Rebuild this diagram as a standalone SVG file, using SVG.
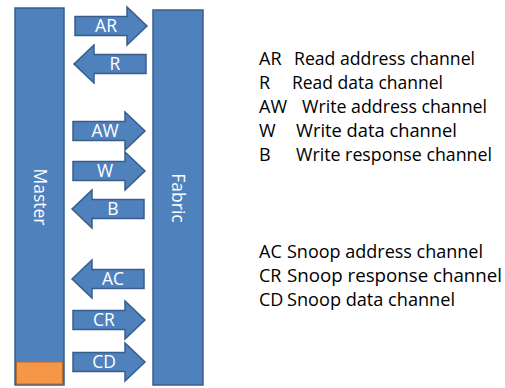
<svg xmlns="http://www.w3.org/2000/svg" xmlns:xlink="http://www.w3.org/1999/xlink" width="505" height="388" viewBox="0 0 505 388">
  <style>
    .bar { fill: #4F81BD; stroke: #385D8A; stroke-width: 1.5; }
    .arrow { fill: #4F81BD; stroke: #385D8A; stroke-width: 1.5; stroke-linejoin: miter; }
    .lbl { font-family: "Open Sans", "Liberation Sans", sans-serif; font-size: 17.5px; fill: #FFFFFF; text-anchor: middle; }
    .legend { font-family: "Open Sans", "Liberation Sans", sans-serif; font-size: 18px; fill: #000000; }
  </style>
  <defs>
    <!-- block arrows, origin at the tail centre -->
    <path id="arrowRight" d="M0,-9.5 H52 V-19 L72,0 L52,19 V9.5 H0 Z"/>
    <path id="arrowLeft" d="M72,-9.5 H20 V-19 L0,0 L20,19 V9.5 H72 Z"/>
  </defs>

  <g id="master">
    <rect class="bar" x="15" y="8" width="49" height="377"/>
    <rect x="16.5" y="362" width="46" height="22" fill="#F79646" stroke="#B66D31" stroke-width="1"/>
    <text class="lbl" transform="translate(40,197) rotate(90)" dy="6">Master</text>
  </g>

  <g id="fabric">
    <rect class="bar" x="153" y="10" width="50" height="375"/>
    <text class="lbl" transform="translate(178,198) rotate(90)" dy="6">Fabric</text>
  </g>

  <g id="connectors">
    <g id="ar"><use xlink:href="#arrowRight" class="arrow" transform="translate(75,26)"/><text class="lbl" x="106" y="32">AR</text></g>
    <g id="r"><use xlink:href="#arrowLeft" class="arrow" transform="translate(74,64)"/><text class="lbl" x="115" y="70">R</text></g>
    <g id="aw"><use xlink:href="#arrowRight" class="arrow" transform="translate(73,131)"/><text class="lbl" x="105" y="137">AW</text></g>
    <g id="w"><use xlink:href="#arrowRight" class="arrow" transform="translate(73,171)"/><text class="lbl" x="105" y="177">W</text></g>
    <g id="b"><use xlink:href="#arrowLeft" class="arrow" transform="translate(72,209)"/><text class="lbl" x="113" y="215">B</text></g>
    <g id="ac"><use xlink:href="#arrowLeft" class="arrow" transform="translate(72,279)"/><text class="lbl" x="113" y="285">AC</text></g>
    <g id="cr"><use xlink:href="#arrowRight" class="arrow" transform="translate(73,320)"/><text class="lbl" x="104" y="326">CR</text></g>
    <g id="cd"><use xlink:href="#arrowRight" class="arrow" transform="translate(73,362)"/><text class="lbl" x="104" y="368">CD</text></g>
  </g>

  <g id="legend">
    <text class="legend" y="65"><tspan x="259">AR</tspan><tspan x="294" textLength="181" lengthAdjust="spacingAndGlyphs">Read address channel</tspan></text>
    <text class="legend" y="89"><tspan x="259">R</tspan><tspan x="292" textLength="151" lengthAdjust="spacingAndGlyphs">Read data channel</tspan></text>
    <text class="legend" y="113"><tspan x="259">AW</tspan><tspan x="302" textLength="185" lengthAdjust="spacingAndGlyphs">Write address channel</tspan></text>
    <text class="legend" y="137"><tspan x="259">W</tspan><tspan x="296" textLength="161" lengthAdjust="spacingAndGlyphs">Write data channel</tspan></text>
    <text class="legend" y="161"><tspan x="259">B</tspan><tspan x="296" textLength="196" lengthAdjust="spacingAndGlyphs">Write response channel</tspan></text>
    <text class="legend" y="258"><tspan x="259">AC</tspan><tspan x="287" textLength="196" lengthAdjust="spacingAndGlyphs">Snoop address channel</tspan></text>
    <text class="legend" y="282"><tspan x="259">CR</tspan><tspan x="287" textLength="215" lengthAdjust="spacingAndGlyphs">Snoop response channel</tspan></text>
    <text class="legend" y="306"><tspan x="259">CD</tspan><tspan x="287" textLength="168" lengthAdjust="spacingAndGlyphs">Snoop data channel</tspan></text>
  </g>
</svg>
